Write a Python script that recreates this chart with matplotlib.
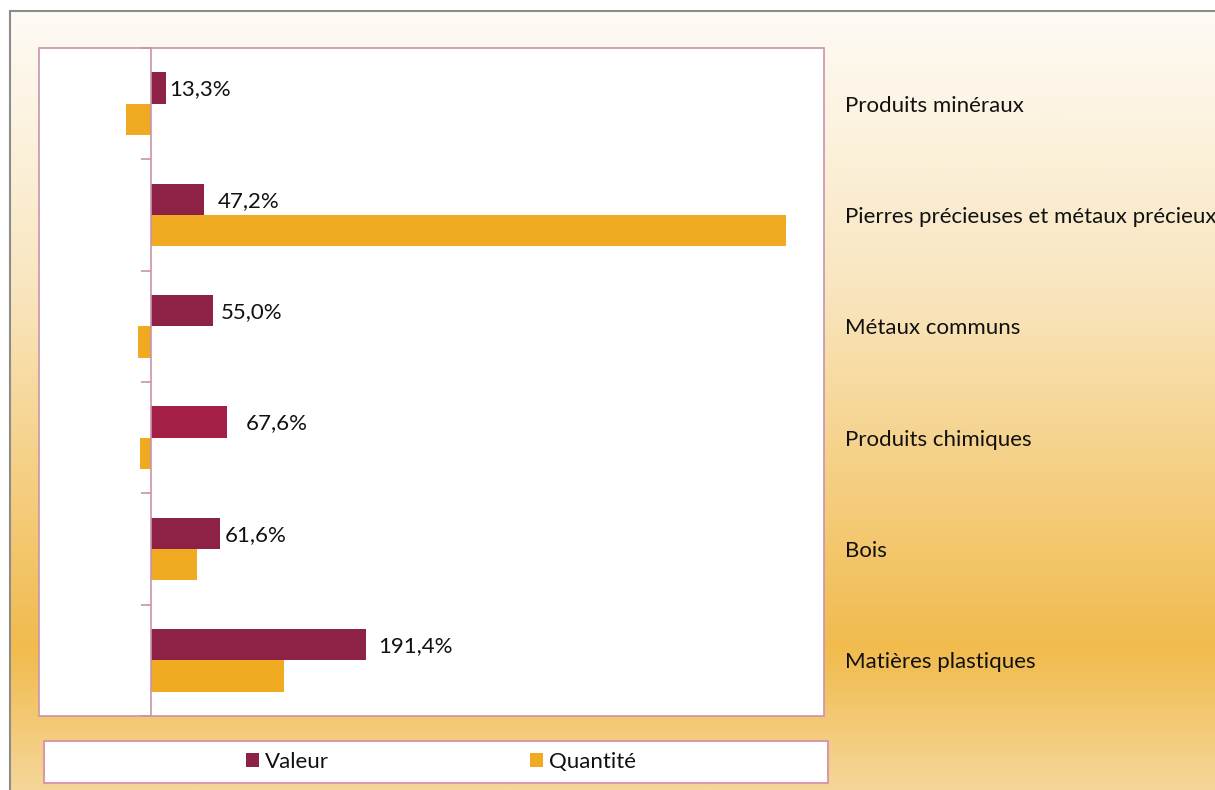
import numpy as np
import matplotlib.pyplot as plt
from matplotlib.colors import LinearSegmentedColormap
from matplotlib.patches import Rectangle, Patch
from matplotlib.lines import Line2D
from matplotlib.ticker import FixedLocator, FixedFormatter

plt.rcParams['font.family'] = ['Lato', 'DejaVu Sans']

# data
categories = ['Produits minéraux', 'Pierres précieuses et métaux précieux',
              'Métaux communs', 'Produits chimiques', 'Bois', 'Matières plastiques']
valeur = [13.3, 47.2, 55.0, 67.6, 61.6, 191.4]
quantite = [-22.3, 566.0, -11.6, -9.8, 40.7, 118.6]
valeur_labels = ['13,3%', '47,2%', '55,0%', '67,6%', '61,6%', '191,4%']

# style
col_val = '#8E2146'
col_val_alt = '#A31F46'
col_qte = '#F0AA22'
pink = '#C994AA'
txt_col = '#111111'
fs = 16
label_pad = [2.5, 9.5, 6, 13.5, 3.5, 9]   # points between bar end and label

W, H = 1215, 790
fig = plt.figure(figsize=(W / 100, H / 100), dpi=100)

# background gradient inside the outer frame
bg = fig.add_axes([10 / W, 0, 1 - 10 / W, 1 - 11 / H], zorder=0)
cmap = LinearSegmentedColormap.from_list('bg', [
    (0.0, '#FEFBF5'), (0.35, '#F9E6C0'), (0.82, '#F1BB4D'), (1.0, '#F5D698')])
grad = np.linspace(0, 1, 400).reshape(-1, 1)
bg.imshow(grad, aspect='auto', cmap=cmap, extent=[0, 1, 1, 0])
bg.set_xlim(0, 1)
bg.set_ylim(1, 0)
bg.axis('off')

# outer frame (top and left edges)
fig.add_artist(Line2D([10 / W, 1], [1 - 11 / H, 1 - 11 / H], color='#8C8C8C', lw=1.5))
fig.add_artist(Line2D([10 / W, 10 / W], [0, 1 - 11 / H], color='#8C8C8C', lw=1.5))

ax = fig.add_axes([39 / W, 1 - 716 / H, 785 / W, 668 / H], zorder=2)
ax.set_facecolor('white')
ax.patch.set_edgecolor(pink)
ax.patch.set_linewidth(1.2)

y = np.arange(len(categories))
h = 0.28
bars_v = ax.barh(y - h / 2, valeur, height=h, color=col_val, edgecolor='none')
bars_v[3].set_facecolor(col_val_alt)
ax.barh(y + h / 2, quantite, height=h, color=col_qte, edgecolor='none')

ax.set_xlim(-100, 600)
ax.set_ylim(len(categories) - 0.5, -0.5)

for s in ['top', 'right', 'bottom']:
    ax.spines[s].set_visible(False)
ax.spines['left'].set_position(('data', 0))
ax.spines['left'].set_color(pink)
ax.spines['left'].set_linewidth(1.2)
ax.set_xticks([])

ax.yaxis.set_major_locator(FixedLocator(np.arange(len(categories) + 1) - 0.5))
ax.yaxis.set_major_formatter(FixedFormatter([''] * (len(categories) + 1)))
ax.yaxis.set_minor_locator(FixedLocator(y))
ax.yaxis.set_minor_formatter(FixedFormatter(categories))
ax.tick_params(axis='y', which='major', direction='out', length=7, color=pink,
               width=1.2, labelleft=False)
ax.tick_params(axis='y', which='minor', left=False, right=False,
               labelleft=False, labelright=True, pad=13, labelsize=fs,
               labelcolor=txt_col)
for lab in ax.get_yticklabels(minor=True):
    lab.set_clip_on(False)

for i, (v, txt) in enumerate(zip(valeur, valeur_labels)):
    ax.annotate(txt, xy=(v, y[i] - h / 2), xytext=(label_pad[i], -1),
                textcoords='offset points', va='center', ha='left',
                fontsize=fs, color=txt_col)

# legend box
fig.add_artist(Rectangle((44 / W, 1 - 783 / H), 784 / W, 42 / H,
                         transform=fig.transFigure, facecolor='white',
                         edgecolor='#D89AA8', lw=1.5, zorder=3))
handles = [Patch(facecolor=col_val, label='Valeur'),
           Patch(facecolor=col_qte, label='Quantité')]
leg = fig.legend(handles=handles, loc='center', ncol=2, frameon=False,
                 bbox_to_anchor=(441 / W, 1 - 762 / H), fontsize=fs,
                 handlelength=0.6, handleheight=0.6, handletextpad=0.27,
                 columnspacing=9.05, labelcolor=txt_col)
leg.set_zorder(4)

fig.savefig('out.png', dpi=100)
